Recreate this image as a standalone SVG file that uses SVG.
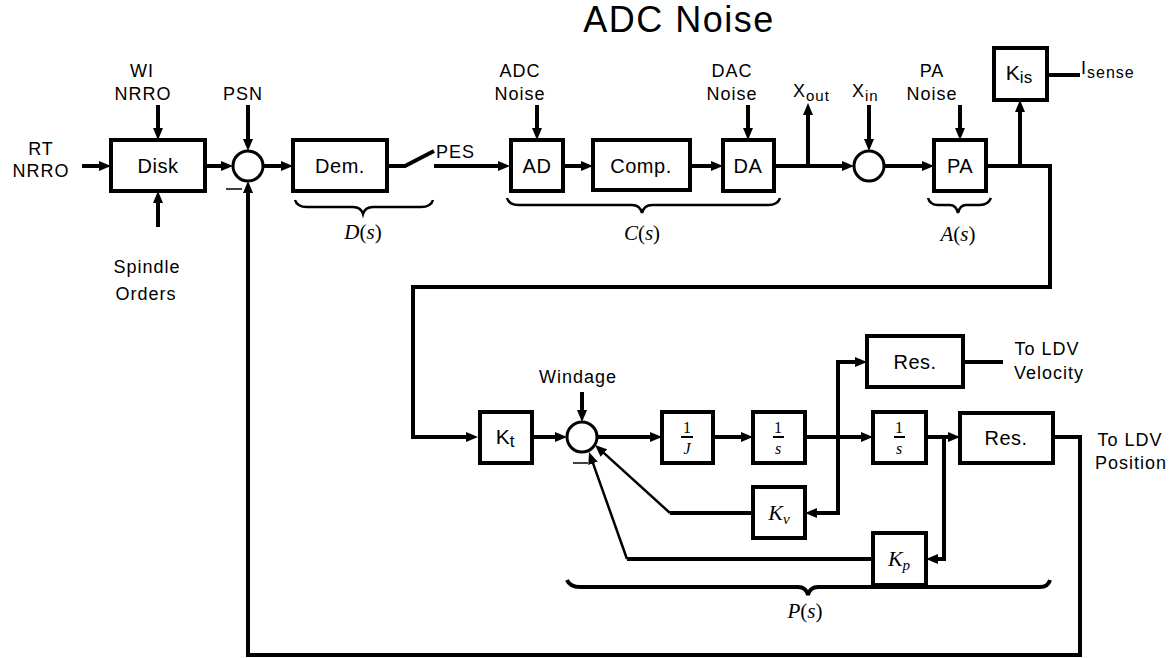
<svg xmlns="http://www.w3.org/2000/svg" width="1173" height="658" viewBox="0 0 1173 658">
<style>
.t{font-family:"Liberation Sans",Arial,sans-serif;fill:#000;text-anchor:middle}
.lbl{font-size:18px;letter-spacing:1px}
.bx{font-size:20px;letter-spacing:0.5px}
.m{font-family:"Liberation Serif","Times New Roman",serif;font-style:italic;fill:#000;text-anchor:middle}
.up{font-style:normal}
rect.b{fill:#fff;stroke:#000;stroke-width:4}
circle.s{fill:#fff;stroke:#000;stroke-width:3}
.ln{fill:none;stroke:#000;stroke-width:4}
.thin{fill:none;stroke:#000;stroke-width:2.5}
.br{fill:none;stroke:#000;stroke-width:2.5}
.arr{marker-end:url(#ah)}
</style>
<defs>
<marker id="ah" markerUnits="userSpaceOnUse" markerWidth="12" markerHeight="10" refX="1" refY="5" orient="auto">
<path d="M0,0 L12,5 L0,10 z" fill="#000"/>
</marker>
</defs>
<rect width="1173" height="658" fill="#fff"/>
<text class="t" x="679" y="32" font-size="36" letter-spacing="1.5">ADC Noise</text>

<g id="connectors">
<path class="ln arr" d="M82,166 H100"/>
<path class="ln arr" d="M158,105 V129"/>
<path class="ln arr" d="M158,227 V202"/>
<path class="ln arr" d="M205,166 H222"/>
<path class="ln arr" d="M248,105 V140"/>
<path class="ln arr" d="M263,166 H282"/>
<path class="ln" d="M387,166 H405 L434,151"/>
<path class="ln arr" d="M434,166 H499"/>
<path class="ln arr" d="M537,105 V129"/>
<path class="ln arr" d="M563,166 H582"/>
<path class="ln arr" d="M690,166 H712"/>
<path class="ln arr" d="M748,105 V129"/>
<path class="ln arr" d="M774,166 H843"/>
<path class="ln arr" d="M808,166 V114"/>
<path class="ln arr" d="M869,105 V140"/>
<path class="ln arr" d="M884,166 H923"/>
<path class="ln arr" d="M960,105 V129"/>
<path class="ln arr" d="M986,166 H1050 V287 H413 V437 H467"/>
<path class="ln arr" d="M1020,166 V111"/>
<path class="ln" d="M1047,75 H1080"/>
<path class="ln arr" d="M532,437 H556"/>
<path class="ln arr" d="M582,392 V411"/>
<path class="ln arr" d="M597,437 H651"/>
<path class="ln arr" d="M713,437 H742"/>
<path class="ln arr" d="M805,437 H862"/>
<path class="ln arr" d="M838,437 V362 H856"/>
<path class="ln arr" d="M838,437 V513 H816"/>
<path class="ln" d="M963,362 H1003"/>
<path class="ln arr" d="M926,437 H949"/>
<path class="ln arr" d="M944,437 V559 H937"/>
<path class="ln arr" d="M1053,437 H1080 V655 H248 V192"/>
<path class="ln" d="M753,513 H670"/>
<path class="thin arr" d="M670,513 L603.2,452.4"/>
<path class="ln" d="M873,559 H627"/>
<path class="thin arr" d="M627,559 L592.7,462.4"/>
</g>

<g id="rt-nrro"><text class="t lbl" x="41" y="155">RT</text><text class="t lbl" x="41" y="177">NRRO</text></g>
<g id="wi-nrro"><text class="t lbl" x="142" y="77">WI</text><text class="t lbl" x="143" y="100">NRRO</text></g>
<g id="spindle"><text class="t lbl" x="147" y="273">Spindle</text><text class="t lbl" x="146" y="300">Orders</text></g>
<g id="psn"><text class="t lbl" x="243" y="100">PSN</text></g>
<g id="disk"><rect class="b" x="111" y="140" width="94" height="51"/><text class="t bx" x="158" y="173">Disk</text></g>
<g id="sum1"><circle class="s" cx="248" cy="166" r="15"/><line x1="226" y1="189" x2="242" y2="189" stroke="#000" stroke-width="1.5"/></g>
<g id="dem"><rect class="b" x="293" y="140" width="94" height="51"/><text class="t bx" x="340" y="173">Dem.</text></g>
<g id="pes"><text class="t lbl" x="436" y="158" style="text-anchor:start">PES</text></g>
<g id="dbrace"><path class="br" d="M295,200 Q297,207 307,207 H353 Q361,207 363,214 Q365,207 373,207 H421 Q431,207 433,200"/><text class="m" x="363" y="239" font-size="21">D<tspan class="up">(</tspan>s<tspan class="up">)</tspan></text></g>
<g id="adc-noise"><text class="t lbl" x="520" y="77">ADC</text><text class="t lbl" x="520" y="100">Noise</text></g>
<g id="ad"><rect class="b" x="511" y="140" width="52" height="51"/><text class="t bx" x="537" y="173">AD</text></g>
<g id="comp"><rect class="b" x="593" y="140" width="97" height="50"/><text class="t bx" x="641" y="173">Comp.</text></g>
<g id="dac-noise"><text class="t lbl" x="732" y="77">DAC</text><text class="t lbl" x="732" y="100">Noise</text></g>
<g id="da"><rect class="b" x="723" y="140" width="51" height="51"/><text class="t bx" x="748" y="173">DA</text></g>
<g id="cbrace"><path class="br" d="M507,198 Q509,205 519,205 H632 Q640,205 642,213 Q644,205 652,205 H768 Q778,205 780,198"/><text class="m" x="642" y="240" font-size="21">C<tspan class="up">(</tspan>s<tspan class="up">)</tspan></text></g>
<g id="xout"><text class="t lbl" x="793" y="97" style="text-anchor:start">X<tspan font-size="15" dy="4">out</tspan></text></g>
<g id="xin"><text class="t lbl" x="852" y="97" style="text-anchor:start">X<tspan font-size="15" dy="4">in</tspan></text></g>
<g id="sum2"><circle class="s" cx="869" cy="166" r="15"/></g>
<g id="pa-noise"><text class="t lbl" x="932" y="77">PA</text><text class="t lbl" x="932" y="100">Noise</text></g>
<g id="pa"><rect class="b" x="934" y="140" width="52" height="51"/><text class="t bx" x="960" y="173">PA</text></g>
<g id="abrace"><path class="br" d="M928,198 Q930,205 938,205 H950 Q956,205 958,213 Q960,205 966,205 H980 Q988,205 991,198"/><text class="m" x="958" y="241" font-size="21">A<tspan class="up">(</tspan>s<tspan class="up">)</tspan></text></g>
<g id="kis"><rect class="b" x="994" y="48" width="53" height="52"/><text class="t" x="1019" y="80" font-size="21">K<tspan font-size="17" dy="3">is</tspan></text></g>
<g id="isense"><text class="t lbl" x="1081" y="74" style="text-anchor:start">I<tspan font-size="16" dy="4">sense</tspan></text></g>

<g id="kt"><rect class="b" x="480" y="412" width="52" height="51"/><text class="t" x="505" y="444" font-size="21">K<tspan font-size="17" dy="3">t</tspan></text></g>
<g id="windage"><text class="t lbl" x="578" y="383">Windage</text></g>
<g id="sum3"><circle class="s" cx="582" cy="437" r="15"/><line x1="573" y1="463" x2="588" y2="463" stroke="#000" stroke-width="1.5"/></g>
<g id="invj"><rect class="b" x="662" y="412" width="51" height="51"/><text class="m" x="687" y="433" font-size="16" style="font-style:normal">1</text><rect x="681" y="436" width="12" height="2" fill="#000"/><text class="m" x="687" y="454" font-size="16">J</text></g>
<g id="integ1"><rect class="b" x="753" y="412" width="52" height="51"/><text class="m" x="778" y="433" font-size="16" style="font-style:normal">1</text><rect x="773" y="436" width="11" height="2" fill="#000"/><text class="m" x="778" y="454" font-size="16">s</text></g>
<g id="res1"><rect class="b" x="867" y="336" width="96" height="51"/><text class="t bx" x="915" y="369">Res.</text></g>
<g id="ldv-vel"><text class="t lbl" x="1047" y="355">To LDV</text><text class="t lbl" x="1049" y="379">Velocity</text></g>
<g id="integ2"><rect class="b" x="873" y="412" width="53" height="51"/><text class="m" x="899" y="433" font-size="16" style="font-style:normal">1</text><rect x="894" y="436" width="11" height="2" fill="#000"/><text class="m" x="899" y="454" font-size="16">s</text></g>
<g id="res2"><rect class="b" x="960" y="413" width="93" height="50"/><text class="t bx" x="1006" y="445">Res.</text></g>
<g id="ldv-pos"><text class="t lbl" x="1130" y="446">To LDV</text><text class="t lbl" x="1131" y="469">Position</text></g>
<g id="kv"><rect class="b" x="753" y="487" width="52" height="51"/><text class="m" x="779" y="520" font-size="22">K<tspan font-size="15" dy="4">v</tspan></text></g>
<g id="kp"><rect class="b" x="873" y="533" width="53" height="52"/><text class="m" x="899" y="566" font-size="22">K<tspan font-size="15" dy="4">p</tspan></text></g>
<g id="pbrace"><path class="ln" d="M567,580 Q570,587 580,587 H798 Q806,587 808,595 Q810,587 818,587 H1040 Q1048,587 1050,580"/><text class="m" x="805" y="618" font-size="21">P<tspan class="up">(</tspan>s<tspan class="up">)</tspan></text></g>
</svg>
